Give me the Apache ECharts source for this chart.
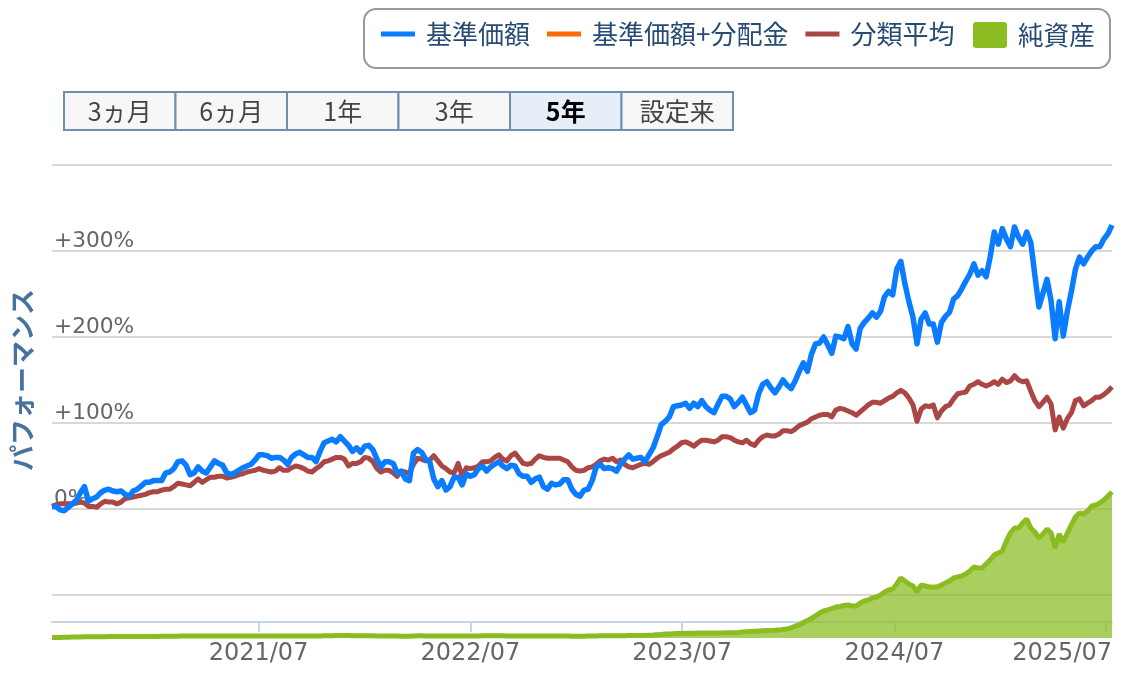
<!DOCTYPE html>
<html>

<head>
    <meta charset="utf-8">
    <script src="https://cdn.jsdelivr.net/npm/echarts@6/dist/echarts.min.js"></script>
</head>
<style type="text/css">
    body {
        margin: 0;
        background: #fff;
    }

    #chart {
        width: 1125px;
        height: 675px;
    }
</style>

<body>
    <div id="chart"></div>
</body>

</html>

<script type="text/javascript">
    // values, one point every 7 days from the start date
    const startDate = new Date(2020, 6, 10)
    const stepDays = 7
    const rangeLabels = ['3ヵ月', '6ヵ月', '1年', '3年', '5年', '設定来']
    const activeRange = '5年'
    const yTicks = [0, 100, 200, 300]
    const tickDates = ['2021-07-01', '2022-07-01', '2023-07-01', '2024-07-01', '2025-07-01']
    const labelDates = ['2021-07-01', '2022-07-01', '2023-07-01', '2024-07-01', '2025-07-11']

    // 基準価額 (%)
    const navValues = [
        3, 3, -1, -2, 2, 6, 10, 19, 26, 9,
        12, 14, 19, 22, 23, 21, 20, 21, 17, 15,
        21, 23, 27, 31, 31, 33, 33, 33, 42, 43,
        47, 55, 56, 51, 40, 42, 49, 44, 42, 49,
        56, 53, 51, 42, 40, 42, 45, 48, 50, 52,
        57, 63, 63, 62, 59, 60, 60, 57, 52, 60,
        64, 66, 63, 60, 60, 55, 67, 77, 79, 81,
        78, 84, 79, 74, 67, 71, 66, 73, 74, 69,
        58, 49, 55, 55, 53, 42, 44, 35, 33, 65,
        69, 66, 58, 55, 35, 26, 33, 22, 26, 37,
        37, 28, 41, 38, 40, 47, 50, 44, 49, 52,
        55, 50, 47, 51, 50, 41, 38, 38, 31, 35,
        37, 26, 23, 30, 28, 29, 34, 34, 23, 17,
        15, 22, 23, 33, 49, 52, 47, 48, 47, 44,
        52, 58, 63, 58, 59, 60, 55, 63, 71, 84,
        98, 102, 107, 119, 120, 121, 123, 117, 123, 119,
        126, 119, 115, 112, 122, 131, 131, 128, 119, 124,
        130, 121, 112, 115, 134, 145, 148, 141, 135, 142,
        150, 144, 140, 149, 160, 170, 160, 180, 192, 193,
        200, 191, 181, 201, 200, 198, 212, 192, 186, 210,
        217, 222, 228, 223, 230, 247, 253, 249, 279, 288,
        262, 241, 223, 192, 221, 228, 215, 215, 194, 217,
        224, 229, 244, 248, 256, 265, 273, 285, 272, 277,
        270, 293, 322, 308, 326, 314, 305, 328, 316, 308,
        322, 310, 272, 235, 251, 267, 242, 198, 241, 201,
        230, 253, 279, 293, 285, 293, 300, 305, 305, 314, 320, 330
    ]

    // 分類平均 (%)
    const categoryAvgValues = [
        3, 5, 6, 6, 6, 6, 7, 8, 7, 3,
        3, 2, 6, 9, 8, 8, 6, 8, 12, 13,
        14, 15, 16, 17, 19, 20, 20, 22, 23, 23,
        26, 30, 29, 28, 27, 31, 35, 31, 34, 37,
        37, 38, 38, 36, 37, 38, 40, 41, 43, 44,
        45, 47, 45, 44, 43, 44, 48, 45, 45, 48,
        50, 49, 47, 44, 43, 47, 50, 55, 56, 58,
        60, 60, 58, 50, 53, 53, 55, 60, 59, 55,
        47, 43, 45, 45, 42, 38, 44, 43, 41, 52,
        59, 58, 56, 57, 62, 56, 50, 47, 43, 42,
        53, 38, 48, 47, 48, 50, 55, 55, 56, 60,
        63, 58, 56, 62, 65, 59, 53, 52, 53, 58,
        62, 60, 59, 59, 59, 59, 57, 55, 49, 45,
        44, 45, 48, 49, 52, 56, 58, 57, 59, 55,
        57, 52, 49, 48, 50, 52, 53, 52, 55, 59,
        62, 64, 66, 70, 73, 77, 78, 76, 73, 77,
        80, 80, 79, 78, 80, 84, 84, 83, 80, 78,
        77, 80, 76, 74, 80, 84, 86, 85, 85, 87,
        91, 91, 90, 93, 97, 99, 101, 105, 107, 109,
        110, 110, 107, 115, 117, 116, 114, 112, 109, 113,
        117, 121, 124, 124, 123, 126, 129, 131, 135, 138,
        135, 129, 121, 102, 116, 120, 119, 121, 106, 114,
        119, 121, 128, 134, 135, 136, 143, 145, 148, 145,
        143, 145, 148, 145, 151, 147, 149, 155, 150, 148,
        149, 137, 126, 119, 124, 130, 122, 92, 107, 94,
        105, 112, 126, 128, 120, 123, 126, 130, 130, 133, 137, 142
    ]

    // 純資産 (relative scale, the picture has no axis for it)
    const netAssetValues = [
        0.5, 0.5, 0.6, 0.7, 0.8, 0.9, 1, 1.1, 1.2, 1.2,
        1.3, 1.3, 1.3, 1.3, 1.4, 1.4, 1.4, 1.4, 1.4, 1.5,
        1.5, 1.5, 1.5, 1.5, 1.6, 1.6, 1.6, 1.7, 1.7, 1.7,
        1.8, 1.8, 1.9, 1.9, 2, 2, 2, 2, 2, 2,
        2, 2, 2, 2, 2, 2, 2, 2, 2.1, 2.1,
        2.1, 2.1, 2.1, 2.1, 2, 2, 2, 2, 2, 2,
        2, 2, 2, 2, 2, 2.1, 2.1, 2.2, 2.3, 2.3,
        2.4, 2.4, 2.4, 2.4, 2.3, 2.3, 2.3, 2.3, 2.2, 2.2,
        2.1, 2, 2, 2, 1.9, 1.9, 1.8, 1.8, 1.8, 2,
        2.2, 2.2, 2.1, 2, 1.9, 1.9, 1.9, 2, 2, 2,
        2, 2, 2, 2.1, 2.1, 2.1, 2.2, 2.2, 2.2, 2.2,
        2.2, 2.2, 2.1, 2.1, 2.1, 2, 2, 2, 2, 2,
        1.9, 1.9, 1.9, 1.9, 1.9, 1.9, 1.9, 1.9, 1.8, 1.8,
        1.8, 1.8, 1.9, 2, 2.1, 2.2, 2.2, 2.2, 2.2, 2.2,
        2.3, 2.3, 2.4, 2.4, 2.4, 2.5, 2.5, 2.8, 3, 3.3,
        3.6, 3.9, 4.1, 4.3, 4.5, 4.6, 4.7, 4.8, 4.8, 4.9,
        4.9, 5, 5, 5, 5.1, 5.1, 5.2, 5.3, 5.3, 5.3,
        6, 6.3, 6.6, 6.8, 7, 7.2, 7.4, 7.6, 7.7, 7.9,
        8.5, 9, 10, 12, 13, 15.5, 17.5, 19.5, 22, 25,
        27, 28, 29.5, 31, 31.5, 32.5, 33, 32, 32, 35,
        37, 38, 40, 41, 43, 46, 48, 49, 54, 60,
        57, 54, 52, 46, 53, 52, 51, 51, 51, 53,
        55, 57, 60, 61, 62, 64, 67, 71, 70, 70,
        74, 78, 83, 85, 87, 97, 105, 110, 110, 115,
        119, 110, 106, 100, 104, 109, 105, 90, 104, 96,
        105, 113, 121, 125, 124, 127, 132, 133, 135, 138, 142, 146
    ]

    const dates = navValues.map((v, i) => {
        let d = new Date(startDate)
        d.setDate(d.getDate() + i * stepDays)
        return d.getTime()
    })
    const minDate = dates[0]
    const maxDate = dates[dates.length - 1]

    function toTime(s) {
        let p = s.split('-')
        return new Date(+p[0], +p[1] - 1, +p[2]).getTime()
    }

    function pairs(values) {
        return values.map((v, i) => [dates[i], v])
    }

    function formatMonth(value) {
        let d = new Date(value)
        let m = d.getMonth() + 1
        return d.getFullYear() + '/' + (m < 10 ? '0' + m : m)
    }

    function formatPercent(value) {
        if (yTicks.indexOf(value) < 0) return ''
        return value > 0 ? '+' + value + '%' : value + '%'
    }

    // range buttons above the plot
    function rangeButtons() {
        let left = 64
        let w = 111.5
        return rangeLabels.map((label, i) => {
            let active = label === activeRange
            return {
                type: 'rect',
                shape: { x: left + i * w, y: 92, width: w, height: 38 },
                style: {
                    fill: active ? '#e6eef8' : '#f7f7f7',
                    stroke: '#6d8fb1',
                    lineWidth: 2
                },
                textContent: {
                    style: {
                        text: label,
                        font: (active ? 'bold ' : '') + '25px "Noto Sans CJK JP"',
                        fill: active ? '#000' : '#444'
                    }
                },
                textConfig: { position: 'inside' }
            }
        })
    }

    const jpFont = '"Noto Sans CJK JP", sans-serif'
    const latinFont = '"DejaVu Sans", sans-serif'

    var myChart = echarts.init(document.getElementById('chart'))

    var option = {
        animation: false,
        backgroundColor: '#fff',
        legend: [
            {
                data: ['基準価額', '基準価額+分配金', '分類平均'],
                left: 376,
                top: 16,
                icon: 'rect',
                itemWidth: 34,
                itemHeight: 5,
                itemGap: 17,
                selectedMode: false,
                textStyle: { fontFamily: jpFont, fontSize: 26, color: '#274b73', padding: [0, 0, 0, 6] }
            },
            {
                data: ['純資産'],
                left: 968,
                top: 17,
                icon: 'path://M3,0H31A3,3 0 0 1 34,3V23A3,3 0 0 1 31,26H3A3,3 0 0 1 0,23V3A3,3 0 0 1 3,0Z',
                itemWidth: 34,
                itemHeight: 26,
                selectedMode: false,
                textStyle: { fontFamily: jpFont, fontSize: 25.6, color: '#274b73', padding: [0, 0, 0, 6] }
            }
        ],
        grid: [
            { left: 52, width: 1060, top: 165, height: 430 },
            { left: 52, width: 1060, top: 165, height: 473 }
        ],
        xAxis: [
            {
                gridIndex: 0,
                type: 'value',
                min: minDate,
                max: maxDate,
                axisLine: { show: false },
                axisTick: { show: false },
                axisLabel: { show: false },
                splitLine: { show: false }
            },
            {
                gridIndex: 1,
                type: 'value',
                min: minDate,
                max: maxDate,
                offset: -16,
                axisLine: { lineStyle: { color: '#c8d6e6', width: 2 } },
                axisTick: {
                    length: 10,
                    lineStyle: { color: '#c8d6e6', width: 2 },
                    customValues: tickDates.map(toTime)
                },
                axisLabel: {
                    customValues: labelDates.map(toTime),
                    formatter: formatMonth,
                    alignMaxLabel: 'right',
                    margin: 20,
                    fontFamily: latinFont,
                    fontSize: 24,
                    color: '#666'
                },
                splitLine: { show: false }
            }
        ],
        yAxis: [
            {
                gridIndex: 0,
                type: 'value',
                min: -100,
                max: 400,
                interval: 100,
                axisLine: { show: false },
                axisTick: { show: false },
                axisLabel: {
                    inside: true,
                    margin: 2,
                    verticalAlign: 'bottom',
                    lineHeight: 20,
                    formatter: formatPercent,
                    fontFamily: latinFont,
                    fontSize: 21.7,
                    color: '#666'
                },
                splitLine: { lineStyle: { color: '#d8d8d8', width: 2 } }
            },
            {
                gridIndex: 1,
                type: 'value',
                min: 0,
                max: 473,
                show: false
            }
        ],
        graphic: [
            {
                type: 'rect',
                shape: { x: 364, y: 9, width: 746, height: 59, r: 12 },
                style: { fill: 'none', stroke: '#999', lineWidth: 2 }
            },
            ...rangeButtons(),
            {
                type: 'text',
                x: 22,
                y: 380,
                rotation: Math.PI / 2,
                style: {
                    text: 'パフォーマンス',
                    font: 'bold 26px "Noto Sans CJK JP"',
                    fill: '#47729f',
                    align: 'center',
                    verticalAlign: 'middle'
                }
            }
        ],
        series: [
            {
                name: '純資産',
                type: 'line',
                xAxisIndex: 1,
                yAxisIndex: 1,
                z: 1,
                symbol: 'none',
                data: pairs(netAssetValues),
                itemStyle: { color: '#8bbc21' },
                lineStyle: { color: '#8bbc21', width: 5 },
                areaStyle: { color: '#8bbc21', opacity: 0.72 }
            },
            {
                name: '基準価額+分配金',
                type: 'line',
                xAxisIndex: 0,
                yAxisIndex: 0,
                symbol: 'none',
                data: [],
                itemStyle: { color: '#ff6a00' },
                lineStyle: { color: '#ff6a00', width: 5 }
            },
            {
                name: '分類平均',
                type: 'line',
                xAxisIndex: 0,
                yAxisIndex: 0,
                z: 2,
                symbol: 'none',
                data: pairs(categoryAvgValues),
                itemStyle: { color: '#aa4643' },
                lineStyle: { color: '#aa4643', width: 5, join: 'round' }
            },
            {
                name: '基準価額',
                type: 'line',
                xAxisIndex: 0,
                yAxisIndex: 0,
                z: 3,
                symbol: 'none',
                data: pairs(navValues),
                itemStyle: { color: '#0a7cff' },
                lineStyle: { color: '#0a7cff', width: 5.5, join: 'round' }
            }
        ]
    }

    myChart.setOption(option)
</script>
